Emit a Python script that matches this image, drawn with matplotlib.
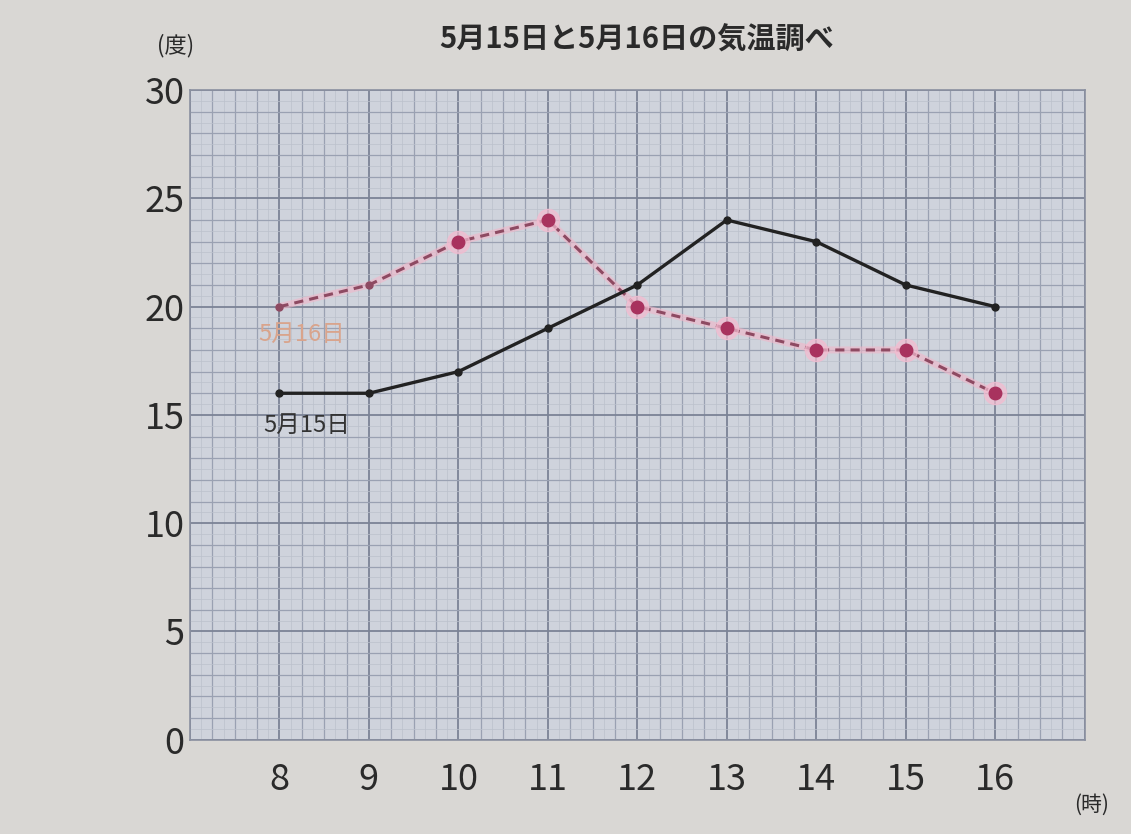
import matplotlib
matplotlib.use("Agg")
import matplotlib.pyplot as plt
import numpy as np

plt.rcParams['font.family'] = ['Noto Sans CJK JP', 'DejaVu Sans']

hours = [8, 9, 10, 11, 12, 13, 14, 15, 16]
may15 = [16, 16, 17, 19, 21, 24, 23, 21, 20]
may16 = [20, 21, 23, 24, 20, 19, 18, 18, 16]
title = "5月15日と5月16日の気温調べ"
ytick_vals = [0, 5, 10, 15, 20, 25, 30]

fig = plt.figure(figsize=(11.31, 8.34), dpi=100)
fig.patch.set_facecolor('#d9d7d4')
ax = fig.add_axes([0.168, 0.113, 0.791, 0.779])
ax.set_facecolor('#cfd3dc')
ax.set_xlim(7, 17)
ax.set_ylim(0, 30)

# graph-paper grid
for x in np.arange(7, 17.001, 0.125):
    if abs(x - round(x)) < 1e-6:
        ax.axvline(x, color='#7b8396', lw=1.3, zorder=1)
    elif abs(x * 4 - round(x * 4)) < 1e-6:
        ax.axvline(x, color='#9aa1b2', lw=0.9, zorder=1)
    else:
        ax.axvline(x, color='#bcc1cc', lw=0.5, zorder=1)
for y in np.arange(0, 30.001, 0.5):
    if abs(y % 5) < 1e-6:
        ax.axhline(y, color='#7b8396', lw=1.3, zorder=1)
    elif abs(y - round(y)) < 1e-6:
        ax.axhline(y, color='#9aa1b2', lw=0.9, zorder=1)
    else:
        ax.axhline(y, color='#bcc1cc', lw=0.5, zorder=1)

for s in ax.spines.values():
    s.set_color('#8a90a0')
    s.set_linewidth(1.2)

# 5/16 dashed pink with halo markers
ax.plot(hours, may16, color='#f2b6c8', lw=5, alpha=0.6, zorder=2)
ax.plot(hours, may16, color='#8e4a62', lw=2.2, ls=(0, (3, 2)), zorder=3)
ax.plot(hours[2:], may16[2:], ls='none', marker='o', ms=16, color='#f4bcd0',
        alpha=0.7, zorder=3)
ax.plot(hours[2:], may16[2:], ls='none', marker='o', ms=9, color='#a8325e', zorder=4)
ax.plot(hours[:2], may16[:2], ls='none', marker='o', ms=5, color='#8e4a62', zorder=4)

# 5/15 solid black
ax.plot(hours, may15, color='#222222', lw=2.4, marker='o', ms=5, zorder=5)

ax.text(8.25, 18.7, "5月16日", color='#d9a48c', fontsize=17, ha='center', va='center', zorder=6)
ax.text(8.3, 14.5, "5月15日", color='#333333', fontsize=17, ha='center', va='center', zorder=6)

ax.set_xticks(hours)
ax.set_xticklabels([str(h) for h in hours], fontsize=26, color='#2a2a2a')
ax.set_yticks(ytick_vals)
ax.set_yticklabels([str(v) for v in ytick_vals], fontsize=26, color='#2a2a2a')
ax.tick_params(axis='x', length=0, pad=16)
ax.tick_params(axis='y', length=0, pad=4)

fig.text(0.563, 0.952, title, fontsize=21, ha='center', va='center', color='#2a2a2a', weight='bold')
fig.text(0.155, 0.945, "(度)", fontsize=16, ha='center', va='center', color='#2a2a2a')
fig.text(0.965, 0.035, "(時)", fontsize=15, ha='center', va='center', color='#2a2a2a')

fig.savefig('out.png', dpi=100, facecolor=fig.get_facecolor())
